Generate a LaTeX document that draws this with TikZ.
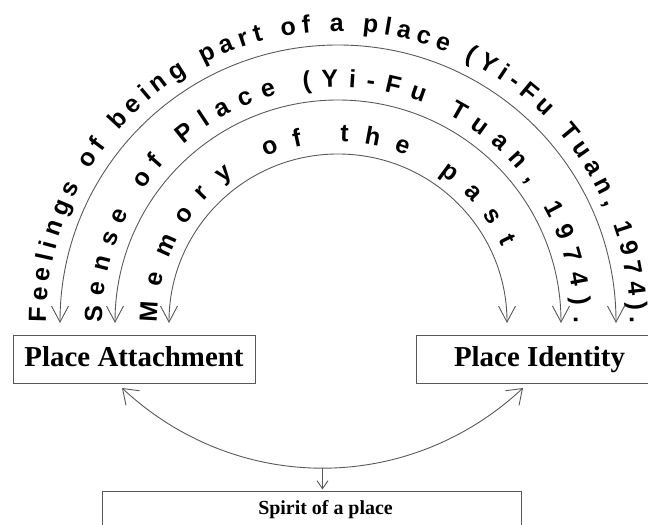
\documentclass[tikz,border=0pt]{standalone}
\usepackage{fontspec}
\setmainfont{Liberation Serif}
\setsansfont{Liberation Sans}
\usepackage{tikz}
\usetikzlibrary{arrows.meta, decorations.text}
\tikzstyle{concept}   = [rectangle, draw=black!65, line width=0.9bp, minimum height=48bp,
                          inner sep=0pt, text height=22bp, text depth=6bp,
                          font=\bfseries\fontsize{29}{32}\selectfont]
\tikzstyle{ringarrow} = [draw=black!65, line width=0.9bp,
                          {Straight Barb[length=16bp,width=17bp]}-{Straight Barb[length=16bp,width=17bp]}]
\tikzstyle{bowarrow}  = [draw=black!65, line width=0.9bp,
                          {Straight Barb[length=14bp,width=20bp]}-{Straight Barb[length=14bp,width=20bp]}]
\tikzstyle{droparrow} = [draw=black!65, line width=0.9bp, -{Straight Barb[length=8bp,width=11bp]}]
\newcommand{\ringfont}{\sffamily\bfseries\fontsize{25}{25}\selectfont}
\tikzset{ringtext/.style={decorate, decoration={text along path, text align=fit to path,
                          text={|\ringfont|#1}}}}

\begin{document}
\begin{tikzpicture}[x=1bp, y=1bp]
  \useasboundingbox (0,0) rectangle (648,525);
  \clip (0,0) rectangle (648,525);

  % the three rings share this centre
  \coordinate (hub) at (338,202);

  \node (pa)     [concept, minimum width=242bp] at (134,166) {Place Attachment};
  \node (pi)     [concept, minimum width=247bp] at (539.5,166) {Place Identity};
  \node (spirit) [concept, minimum width=419bp, minimum height=60bp, anchor=north] at (311.5,33.5) {};
  \node (spiritname) [font=\bfseries\fontsize{20}{22}\selectfont, anchor=base] at (325.5,10) {Spirit of a place};

  % ring ends and tops
  \coordinate (feelA)  at (60,202);  \coordinate (feelT)  at (338,480); \coordinate (feelI)  at (616,202);
  \coordinate (senseA) at (115,202); \coordinate (senseT) at (338,425); \coordinate (senseI) at (561,202);
  \coordinate (memA)   at (169,202); \coordinate (memT)   at (338,371); \coordinate (memI)   at (507,202);

  \draw[ringarrow] (feelA)  to[out=90,in=180] (feelT)  to[out=0,in=90] (feelI);
  \draw[ringarrow] (senseA) to[out=90,in=180] (senseT) to[out=0,in=90] (senseI);
  \draw[ringarrow] (memA)   to[out=90,in=180] (memT)   to[out=0,in=90] (memI);

  \path[ringtext={Feelings of being part of a place (Yi-Fu Tuan, 1974).}]
    ([shift={(180:292bp)}]hub) arc[start angle=180, end angle=0, radius=292bp];
  \path[ringtext={Sense of Place (Yi-Fu Tuan, 1974).}]
    ([shift={(180:236bp)}]hub) arc[start angle=180, end angle=0, radius=236bp];
  \path[ringtext={Memory of the past}]
    ([shift={(180:181bp)}]hub) arc[start angle=180, end angle=25, radius=181bp];

  % bow between the two boxes, and the drop to the spirit box
  \coordinate (paend) at (122,137);
  \coordinate (piend) at (523,137);
  \draw[bowarrow] (paend) to[bend right=43] node[coordinate, pos=0.5] (low) {} (piend);
  \draw[droparrow, shorten >=2bp] (low) -- (low |- spirit.north);
\end{tikzpicture}
\end{document}
